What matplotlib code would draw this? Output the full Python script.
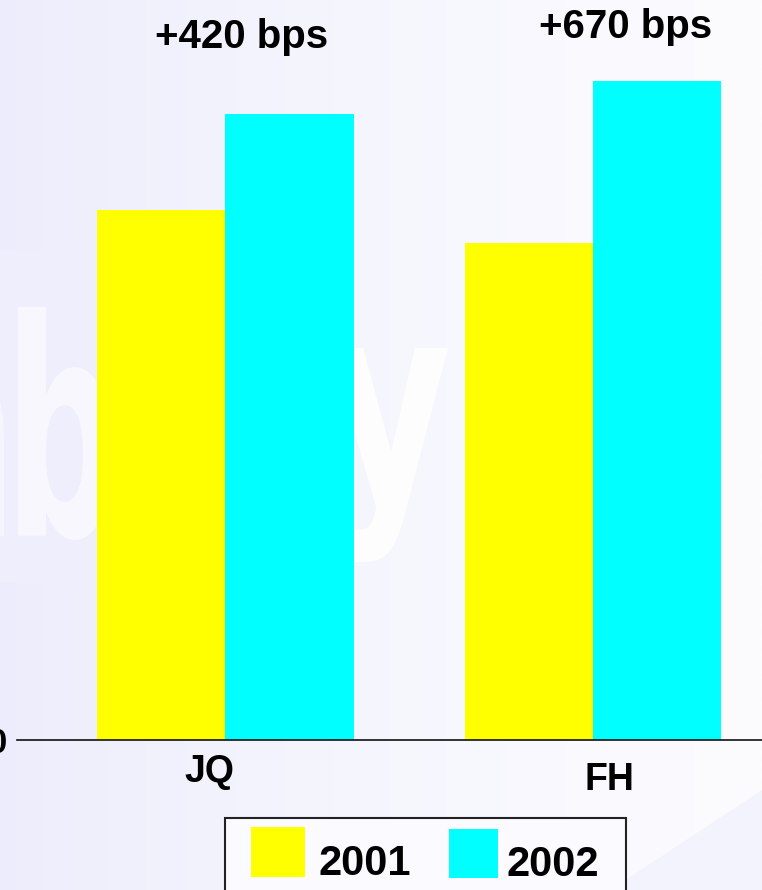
import numpy as np
import matplotlib
matplotlib.use("Agg")
import matplotlib.pyplot as plt
from matplotlib.patches import Rectangle, Polygon, PathPatch
from matplotlib.textpath import TextPath
from matplotlib.font_manager import FontProperties
from matplotlib.transforms import Affine2D

# dados do grafico
grupos = ["JQ", "FH"]
anos = ["2001", "2002"]
valores_2001 = [22.6, 21.2]
valores_2002 = [26.7, 28.1]
ganhos = ["+420 bps", "+670 bps"]
cores = ["#FFFF00", "#00FFFF"]

plt.rcParams['font.family'] = ['Liberation Sans', 'DejaVu Sans']

W, H = 762, 890
fig = plt.figure(figsize=(W / 100, H / 100), dpi=100)

# fundo (degrade lilas) em coordenadas de pixel
bg = fig.add_axes([0, 0, 1, 1], zorder=0)
bg.set_xlim(0, W)
bg.set_ylim(H, 0)
bg.axis("off")
t = np.linspace(0, 1, 256)
c0 = np.array([236, 236, 252]) / 255
c1 = np.array([252, 252, 255]) / 255
img = c0 + (c1 - c0) * (t[:, None] ** 0.7)
bg.imshow(img[None, :, :], extent=[0, W, H, 0], aspect="auto", zorder=0)
bg.add_patch(Rectangle((0, 250), 82, 333, fc="#EEEEFC", ec="none", zorder=1))
bg.add_patch(Polygon([[610, H], [W, 790], [W, H]], closed=True, fc="#F3F3FE", ec="none", zorder=1))

fp_marca = FontProperties(family=["Liberation Sans Narrow", "DejaVu Sans"], weight="bold")


def marca(texto, x0, y0, x1, y1, alpha):
    # marca d'agua esticada para caber na caixa
    tp = TextPath((0, 0), texto, size=100, prop=fp_marca)
    bb = tp.get_extents()
    tr = (Affine2D().translate(-bb.x0, -bb.y1)
          .scale((x1 - x0) / bb.width, -(y1 - y0) / bb.height)
          .translate(x0, y0))
    bg.add_patch(PathPatch(tr.transform_path(tp), fc="white", ec="none", alpha=alpha, zorder=2))


marca("n", -80, 373, 4, 536, 0.45)
marca("b", 18, 307, 112, 540, 0.55)
marca("y", 330, 348, 448, 562, 0.85)

# grafico de barras
ax = fig.add_axes([17 / W, 150 / H, 745 / W, 740 / H], zorder=1)
ax.patch.set_alpha(0)
x = np.arange(len(grupos))
larg = 0.349
ax.bar(x - larg / 2, valores_2001, larg, color=cores[0], zorder=3, label=anos[0])
ax.bar(x + larg / 2, valores_2002, larg, color=cores[1], zorder=3, label=anos[1])
ax.set_xlim(-0.5665, 1.4594)
ax.set_ylim(0, 31.56)

for s in ["top", "right", "left"]:
    ax.spines[s].set_visible(False)
ax.spines["bottom"].set_color("#111111")
ax.spines["bottom"].set_linewidth(1.2)
ax.spines["bottom"].set_zorder(4)
ax.set_xticks([])
ax.set_yticks([0])
ax.set_yticklabels(["0"], fontsize=25, fontweight="bold")
ax.tick_params(axis="y", length=0, pad=7)

# nomes das categorias
desl_nome = [-0.043, 0.0435]
base_nome = [-0.0568, -0.0676]
for i, g in enumerate(grupos):
    ax.text(x[i] + desl_nome[i], base_nome[i], g, transform=ax.get_xaxis_transform(),
            ha="center", va="baseline", fontsize=27, fontweight="bold")

# ganhos em bps
desl_ganho = [0.0454, 0.0897]
base_ganho = [0.9347, 0.949]
for i, txt in enumerate(ganhos):
    ax.text(x[i] + desl_ganho[i], base_ganho[i], txt, transform=ax.get_xaxis_transform(),
            ha="center", va="baseline", fontsize=29, fontweight="bold")

# legenda desenhada a mao
bg.add_patch(Rectangle((225, 818), 401, 90, fc="#FAFAFF", ec="#222222", lw=1.5, zorder=5))
bg.add_patch(Rectangle((251, 827), 54, 50, fc=cores[0], ec="none", zorder=6))
bg.add_patch(Rectangle((449, 829), 49, 49, fc=cores[1], ec="none", zorder=6))
bg.text(318, 875, anos[0], ha="left", va="baseline", fontsize=30, fontweight="bold", zorder=6)
bg.text(507, 876, anos[1], ha="left", va="baseline", fontsize=30, fontweight="bold", zorder=6)

fig.savefig("out.png", dpi=100)
